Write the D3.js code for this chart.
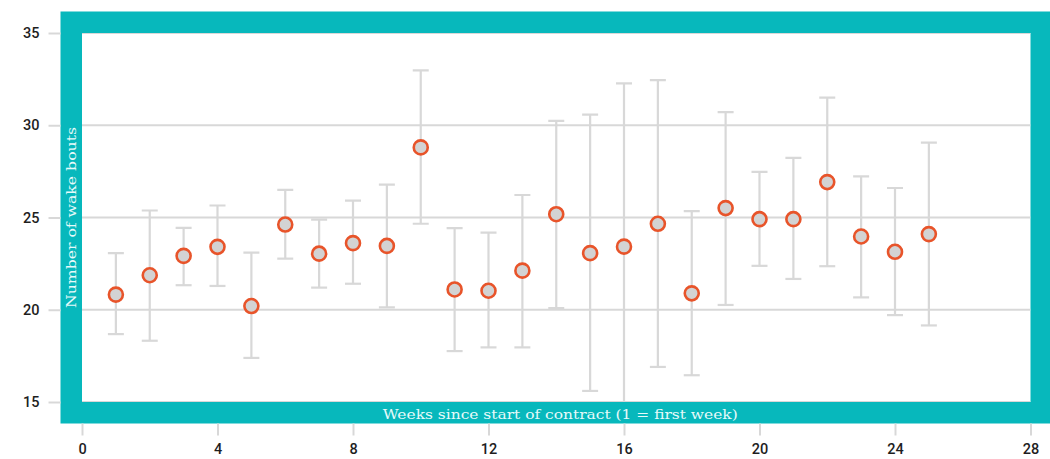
<!DOCTYPE html>
<html>
<head>
<meta charset="utf-8">
<script src="https://cdn.jsdelivr.net/npm/d3@7"></script>
<style>
  html, body { margin: 0; padding: 0; background: #ffffff; }
  svg { display: block; }
</style>
</head>
<body>
<svg id="chart" width="1050" height="459"></svg>
<script>
// ---- data ----
const weeks = [1, 2, 3, 4, 5, 6, 7, 8, 9, 10, 11, 12, 13, 14, 15, 16, 17, 18, 19, 20, 21, 22, 23, 24, 25];
const meanBouts = [20.82, 21.87, 22.92, 23.41, 20.2, 24.62, 23.04, 23.61, 23.46, 28.8, 21.1, 21.03, 22.12, 25.18, 23.07, 23.42, 24.66, 20.89, 25.51, 24.91, 24.91, 26.92, 23.97, 23.14, 24.1];
const upperBouts = [23.07, 25.38, 24.44, 25.65, 23.1, 26.5, 24.89, 25.92, 26.78, 32.97, 24.42, 24.18, 26.22, 30.24, 30.58, 32.27, 32.45, 25.35, 30.71, 27.47, 28.23, 31.5, 27.23, 26.6, 29.06];
const lowerBouts = [18.68, 18.32, 21.33, 21.29, 17.39, 22.77, 21.2, 21.41, 20.13, 24.66, 17.76, 17.96, 17.96, 20.09, 15.6, 14.5, 16.9, 16.45, 20.26, 22.38, 21.67, 22.36, 20.67, 19.71, 19.15];
const xTicks = [0, 4, 8, 12, 16, 20, 24, 28];
const yTicks = [15, 20, 25, 30, 35];
const xTitle = "Weeks since start of contract (1 = first week)";
const yTitle = "Number of wake bouts";

// ---- layout ----
const svg = d3.select("#chart");
const plot = { left: 82, right: 1030.5, top: 33, bottom: 402 };
const frameW = 21.5;
const teal = "#07b8bc";
const gridColor = "#d8d8d8";

const x = d3.scaleLinear().domain([0, 28]).range([plot.left, plot.right]);
const y = d3.scaleLinear().domain([15, 35]).range([plot.bottom, plot.top]);

// frame
svg.append("rect")
  .attr("x", plot.left - frameW).attr("y", plot.top - frameW)
  .attr("width", plot.right - plot.left + 2 * frameW)
  .attr("height", plot.bottom - plot.top + 2 * frameW)
  .attr("fill", teal);
svg.append("rect")
  .attr("x", plot.left).attr("y", plot.top)
  .attr("width", plot.right - plot.left)
  .attr("height", plot.bottom - plot.top)
  .attr("fill", "#ffffff");

// clip
svg.append("defs").append("clipPath").attr("id", "plotclip")
  .append("rect")
  .attr("x", plot.left).attr("y", plot.top)
  .attr("width", plot.right - plot.left)
  .attr("height", plot.bottom - plot.top);

// gridlines (inside plot)
const grid = svg.append("g").attr("clip-path", "url(#plotclip)");
grid.selectAll("line").data(yTicks).join("line")
  .attr("x1", plot.left).attr("x2", plot.right)
  .attr("y1", d => y(d)).attr("y2", d => y(d))
  .attr("stroke", gridColor).attr("stroke-width", 2);

// y axis (ticks outside frame)
const yAxis = svg.append("g")
  .attr("transform", `translate(${plot.left - frameW},0)`)
  .call(d3.axisLeft(y).tickValues(yTicks).tickSize(12).tickPadding(9).tickFormat(d3.format("d")));
yAxis.select(".domain").remove();
yAxis.selectAll(".tick line").attr("stroke", gridColor).attr("stroke-width", 2);
yAxis.selectAll(".tick text")
  .attr("fill", "#1e1e1e").attr("font-family", "Roboto, 'Noto Sans', sans-serif")
  .attr("font-size", 14.5).attr("font-weight", 500);

// x axis (ticks below frame)
const xAxis = svg.append("g")
  .attr("transform", `translate(0,${plot.bottom + frameW})`)
  .call(d3.axisBottom(x).tickValues(xTicks).tickSize(12).tickPadding(8).tickFormat(d3.format("d")));
xAxis.select(".domain").remove();
xAxis.selectAll(".tick line").attr("stroke", gridColor).attr("stroke-width", 2);
xAxis.selectAll(".tick text")
  .attr("fill", "#1e1e1e").attr("font-family", "Roboto, 'Noto Sans', sans-serif")
  .attr("font-size", 14.5).attr("font-weight", 500);

// error bars
const data = weeks.map((w, i) => ({ w, m: meanBouts[i], hi: upperBouts[i], lo: lowerBouts[i] }));
const capHalf = 8;
const bars = svg.append("g").attr("clip-path", "url(#plotclip)");
const eb = bars.selectAll("g").data(data).join("g");
eb.append("line")
  .attr("x1", d => x(d.w)).attr("x2", d => x(d.w))
  .attr("y1", d => y(d.hi)).attr("y2", d => y(d.lo))
  .attr("stroke", gridColor).attr("stroke-width", 2.2);
eb.append("line")
  .attr("x1", d => x(d.w) - capHalf).attr("x2", d => x(d.w) + capHalf)
  .attr("y1", d => y(d.hi)).attr("y2", d => y(d.hi))
  .attr("stroke", gridColor).attr("stroke-width", 2.2);
eb.append("line")
  .attr("x1", d => x(d.w) - capHalf).attr("x2", d => x(d.w) + capHalf)
  .attr("y1", d => y(d.lo)).attr("y2", d => y(d.lo))
  .attr("stroke", gridColor).attr("stroke-width", 2.2);

// points
svg.append("g").selectAll("circle").data(data).join("circle")
  .attr("cx", d => x(d.w)).attr("cy", d => y(d.m))
  .attr("r", 7)
  .attr("fill", "#d3d3d3")
  .attr("stroke", "#e8542a")
  .attr("stroke-width", 2.6);

// axis titles inside the frame
svg.append("text")
  .attr("x", (plot.left + plot.right) / 2 + 4)
  .attr("y", plot.bottom + 17)
  .attr("text-anchor", "middle")
  .attr("fill", "#e6fafa")
  .attr("font-family", "'DejaVu Serif', serif")
  .attr("font-size", 13.5)
  .attr("textLength", 355)
  .attr("lengthAdjust", "spacingAndGlyphs")
  .text(xTitle);

svg.append("text")
  .attr("transform", `translate(${plot.left - 6.5},${(plot.top + plot.bottom) / 2}) rotate(-90)`)
  .attr("text-anchor", "middle")
  .attr("fill", "#e6fafa")
  .attr("font-family", "'DejaVu Serif', serif")
  .attr("font-size", 13.5)
  .attr("textLength", 181)
  .attr("lengthAdjust", "spacingAndGlyphs")
  .text(yTitle);
</script>
</body>
</html>
